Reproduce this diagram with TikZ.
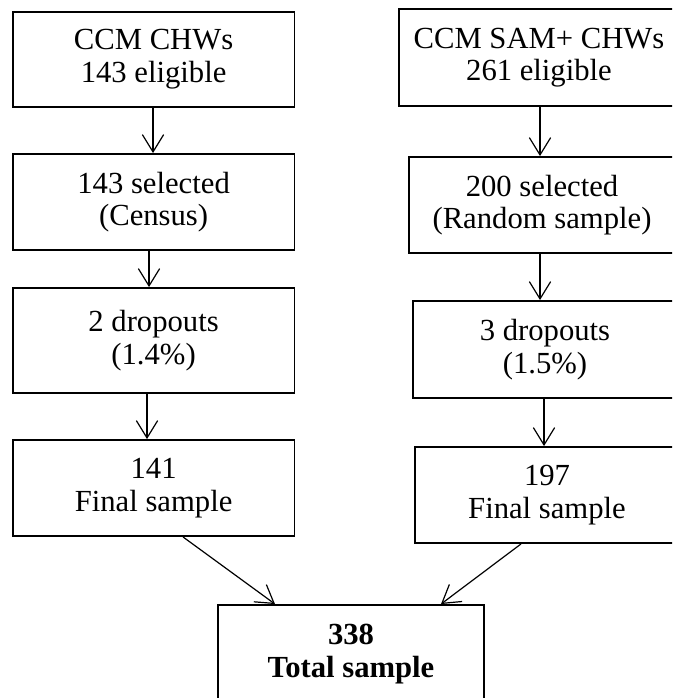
\documentclass[tikz,border=0pt]{standalone}
\usepackage{fontspec}
\setmainfont{Liberation Serif}
\usetikzlibrary{arrows.meta,calc}
\begin{document}
\begin{tikzpicture}[x=0.75pt,y=-0.75pt,
  flowbox/.style={draw,line width=1.4pt,rectangle,inner sep=0pt,align=center,
    font=\fontsize{23}{24.5}\selectfont},
  arr/.style={line width=0.9pt,-{Straight Barb[length=13pt,width=16pt,line width=0.9pt]}}]
\useasboundingbox (0,0) rectangle (672,698);
\clip (0,0) rectangle (672,698);
% left column
\node[flowbox,minimum width=211.35pt,minimum height=71.5pt] (L1) at (153.6,59.4) {CCM CHWs\\143 eligible};
\node[flowbox,minimum width=211.35pt,minimum height=72pt] (L2) at (153.6,202) {143 selected\\(Census)};
\node[flowbox,minimum width=211.35pt,minimum height=78.75pt] (L3) at (153.6,340.5) {2 dropouts\\(1.4\%)};
\node[flowbox,minimum width=211.35pt,minimum height=72pt] (L4) at (153.6,488) {141\\Final sample};
% right column
\node[flowbox,minimum width=210pt,minimum height=72.75pt] (R1) at (539,57.5) {CCM SAM+ CHWs\\261 eligible};
\node[flowbox,minimum width=199.5pt,minimum height=72pt] (R2) at (542,205) {200 selected\\(Random sample)};
\node[flowbox,minimum width=198pt,minimum height=72.75pt] (R3) at (545,349.5) {3 dropouts\\(1.5\%)};
\node[flowbox,minimum width=198pt,minimum height=72pt] (R4) at (547,495) {197\\Final sample};
% bottom
\node[flowbox,minimum width=199.5pt,minimum height=73.5pt] (B) at (351,654) {\textbf{338}\\\textbf{Total sample}};
% connectors
\draw[arr] ($(L1.south)+(-0.6,0)$) -- ($(L2.north)+(-0.6,0)$);
\draw[arr] ($(L2.south)+(-4.6,0)$) -- ($(L3.north)+(-4.6,0)$);
\draw[arr] ($(L3.south)+(-6.6,0)$) -- ($(L4.north)+(-6.6,0)$);
\draw[arr] ($(R1.south)+(1,0)$) -- ($(R2.north)+(-2,0)$);
\draw[arr] ($(R2.south)+(-2,0)$) -- ($(R3.north)+(-5,0)$);
\draw[arr] ($(R3.south)+(-1,0)$) -- ($(R4.north)+(-3,0)$);
\draw[arr] ($(L4.south)+(29.4,0)$) -- ($(B.north)+(-76,0)$);
\draw[arr] ($(R4.south)+(-26,0)$) -- ($(B.north)+(90,0)$);
\end{tikzpicture}
\end{document}
